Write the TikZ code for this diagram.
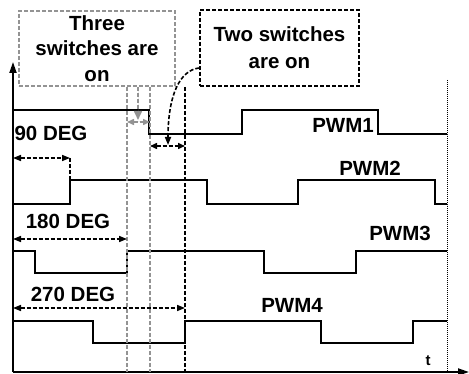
\documentclass[tikz,border=0pt]{standalone}
\usepackage{fontspec}
\setmainfont{Liberation Sans}
\usetikzlibrary{arrows.meta}
\begin{document}
\begin{tikzpicture}[x=1pt,y=-1pt,
  sig/.style={line width=1.9pt, line join=miter},
  axis/.style={line width=1.9pt, -{Triangle[length=11pt,width=7pt]}},
  lbl/.style={font=\bfseries\fontsize{20.5}{25.5}\selectfont, inner sep=0pt, align=center},
  gdash/.style={draw=gray!85, line width=1.6pt, dash pattern=on 4pt off 2pt},
  kdash/.style={draw=black, line width=1.6pt, dash pattern=on 4pt off 2pt},
  dim/.style={line width=1.5pt, dash pattern=on 4pt off 2pt, {Triangle[length=8pt,width=6pt]}-{Triangle[length=8pt,width=6pt]}},
  tip/.style={-{Triangle[length=8pt,width=6pt]}}
]
\useasboundingbox (0,0) rectangle (469,374);
% axes
\coordinate (O) at (13,372);
\coordinate (ytop) at (13,62);
\coordinate (xend) at (469,372);
\draw[axis] (O) -- (ytop);
\draw[axis] (O) -- (xend);
% waveforms
\draw[sig] (13,110) -- (149,110) -- (149,134) -- (242,134) -- (242,110) -- (378,110) -- (378,134) -- (447,134);
\draw[sig] (13,204) -- (70,204) -- (70,180) -- (207,180) -- (207,204) -- (298,204) -- (298,180) -- (435,180) -- (435,204) -- (447,204);
\draw[sig] (13,251) -- (35,251) -- (35,273) -- (127,273) -- (127,251) -- (264,251) -- (264,273) -- (356,273) -- (356,251) -- (447,251);
\draw[sig] (13,321) -- (93,321) -- (93,343) -- (185,343) -- (185,321) -- (321,321) -- (321,343) -- (413,343) -- (413,321) -- (447,321);
% right dotted line
\draw[line width=1pt, dash pattern=on 1pt off 1pt] (447,80) -- (447,372);
% boxes
\node[lbl, gdash, minimum width=156pt, minimum height=75pt] (three) at (97,48.5) {Three\\switches are\\on};
\node[lbl, kdash, minimum width=159pt, minimum height=76pt, font=\bfseries\fontsize{20.5}{27}\selectfont] (two) at (279.5,48) {Two switches\\are on};
% vertical dashed guides
\coordinate (g1t) at (127,87); \coordinate (g1b) at (127,372);
\coordinate (g2t) at (150,87); \coordinate (g2b) at (150,372);
\coordinate (k1t) at (185,87); \coordinate (k1b) at (185,372);
\draw[gdash] (g1t) -- (g1b);
\draw[gdash] (g2t) -- (g2b);
\draw[kdash] (k1t) -- (k1b);
% gray arrows
\coordinate (gat) at (138,87); \coordinate (gab) at (138,120);
\draw[gdash, -{Triangle[length=9pt,width=8pt]}, draw=gray!85, fill=gray!85] (gat) -- (gab);
\coordinate (ga1) at (127,122); \coordinate (ga2) at (150,122);
\draw[dim, draw=gray!85, fill=gray!85, {Triangle[length=7pt,width=6pt]}-{Triangle[length=7pt,width=6pt]}] (ga1) -- (ga2);
% black two-switch arrow
\coordinate (ka1) at (150,146); \coordinate (ka2) at (185,146);
\draw[dim, {Triangle[length=7pt,width=6pt]}-{Triangle[length=7pt,width=6pt]}] (ka1) -- (ka2);
% curved arrow
\coordinate (ctip) at (168,145);
\draw[kdash, tip] (two.west |- 0,68) .. controls (180,70) and (168,95) .. (ctip);
% degree arrows
\coordinate (d90a) at (13,158); \coordinate (d90b) at (70,158); \coordinate (d90c) at (70,180);
\draw[dim] (d90a) -- (d90b);
\draw[kdash, line width=1.3pt] (d90b) -- (d90c);
\coordinate (d180a) at (13,239); \coordinate (d180b) at (127,239);
\draw[dim] (d180a) -- (d180b);
\coordinate (d270a) at (13,308); \coordinate (d270b) at (185,308);
\draw[dim] (d270a) -- (d270b);
% labels
\node[lbl] (l90) at (51,133) {90 DEG};
\node[lbl] (l180) at (68,221) {180 DEG};
\node[lbl] (l270) at (73,294) {270 DEG};
\node[lbl] (p1) at (343,125) {PWM1};
\node[lbl] (p2) at (370,168) {PWM2};
\node[lbl] (p3) at (400,233) {PWM3};
\node[lbl] (p4) at (292,305) {PWM4};
\node[lbl, font=\bfseries\fontsize{15}{17}\selectfont] (t) at (428,361) {t};
\end{tikzpicture}
\end{document}
